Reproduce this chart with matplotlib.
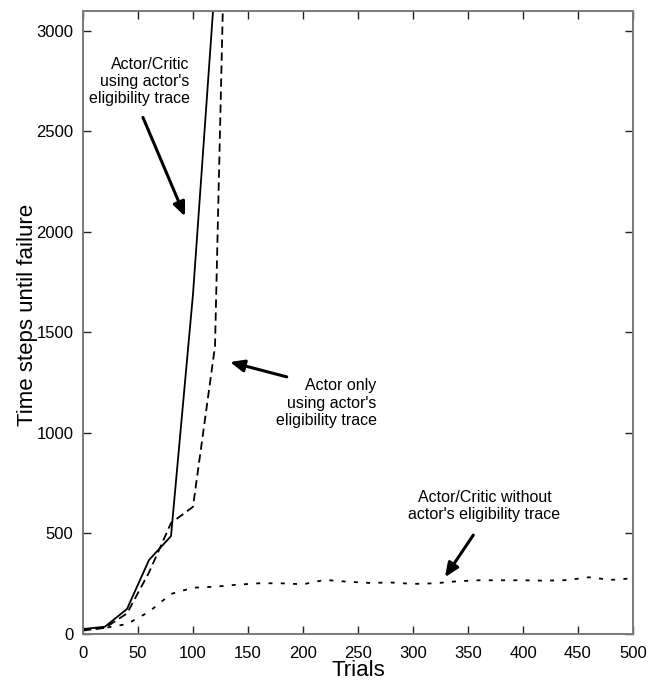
import matplotlib
matplotlib.use('Agg')
import matplotlib.pyplot as plt

plt.rcParams['font.family'] = ['Liberation Sans', 'DejaVu Sans']

# Actor/Critic using actor's eligibility trace (solid)
trials_ac = [0, 20, 40, 60, 80, 100, 120]
steps_ac = [22, 34, 122, 366, 485, 1690, 3240]

# Actor only using actor's eligibility trace (dashed)
trials_actor = [0, 20, 40, 60, 80, 100, 120, 140]
steps_actor = [15, 28, 100, 304, 550, 631, 1430, 6150]

# Actor/Critic without actor's eligibility trace (dotted)
trials_noet = [0, 20, 40, 60, 80, 100, 120, 140, 160, 180, 200, 220, 240,
               260, 280, 300, 320, 340, 360, 380, 400, 420, 440, 460, 480, 500]
steps_noet = [20, 28, 47, 108, 197, 228, 233, 243, 250, 250, 245, 267, 258,
              252, 254, 247, 250, 260, 265, 265, 265, 263, 266, 280, 267, 275]

x_ticks = list(range(0, 501, 50))
y_ticks = list(range(0, 3001, 500))

fig = plt.figure(figsize=(6.5, 6.81), dpi=100)
ax = fig.add_axes([83 / 650, 1 - 633.5 / 681, 550 / 650, 622.5 / 681])

lw = 1.3
ax.plot(trials_ac, steps_ac, color='black', lw=lw, linestyle='-')
ax.plot(trials_actor, steps_actor, color='black', lw=lw, linestyle=(0, (4.6, 2.6)))
ax.plot(trials_noet, steps_noet, color='black', lw=lw, linestyle=(0, (2.2, 4.6)))

ax.set_xlim(0, 500)
ax.set_ylim(0, 3100)
ax.set_xticks(x_ticks)
ax.set_yticks(y_ticks)

for side in ax.spines.values():
    side.set_color('#7a7a7a')
    side.set_linewidth(1.4)
ax.tick_params(direction='in', top=True, right=True, length=5.5, width=1.0,
               color='#222222', labelsize=12)
ax.tick_params(axis='x', pad=9)
ax.tick_params(axis='y', pad=7)

ax.text(-0.1, 0.512, 'Time steps until failure', transform=ax.transAxes,
        rotation=90, ha='center', va='center', fontsize=16)
ax.text(0.5, -0.06, 'Trials', transform=ax.transAxes, ha='center', va='center',
        fontsize=16)

# annotation texts
ax.text(97, 2749, "Actor/Critic\nusing actor's\neligibility trace",
        ha='right', va='center', fontsize=11.5, linespacing=1.2)
ax.text(267, 1147, "Actor only\nusing actor's\neligibility trace",
        ha='right', va='center', fontsize=11.5, linespacing=1.2)
ax.text(365, 634, "Actor/Critic without\nactor's eligibility trace",
        ha='center', va='center', fontsize=11.5, linespacing=1.15)

arrow = dict(arrowstyle='-|>,head_length=0.7,head_width=0.3', lw=2.2,
             color='black', shrinkA=0, shrinkB=0, mutation_scale=12)
ax.annotate('', xy=(92.7, 2077), xytext=(54.5, 2570), arrowprops=arrow)
ax.annotate('', xy=(133.6, 1352), xytext=(185.2, 1278), arrowprops=arrow)
ax.annotate('', xy=(329, 280), xytext=(354.8, 490), arrowprops=arrow)

fig.savefig('out.png', dpi=100)
